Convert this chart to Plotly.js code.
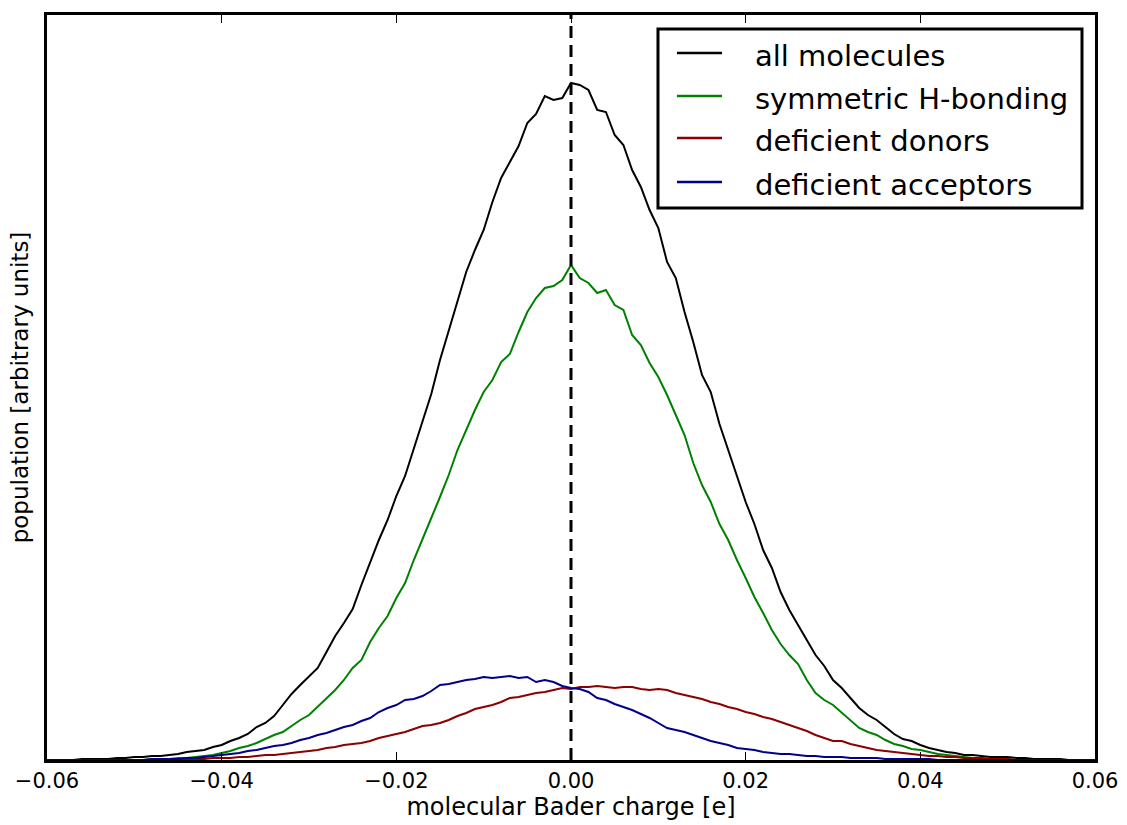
<!DOCTYPE html>
<html>
<head>
<meta charset="utf-8">
<script src="https://cdn.plot.ly/plotly-3.0.1.min.js"></script>
<style>html,body{margin:0;padding:0;background:#fff;}#chart{width:1127px;height:825px;}</style>
</head>
<body>
<div id="chart"></div>
<script>
const charge = [-0.060,-0.059,-0.058,-0.057,-0.056,-0.055,-0.054,-0.053,-0.052,-0.051,
-0.050,-0.049,-0.048,-0.047,-0.046,-0.045,-0.044,-0.043,-0.042,-0.041,
-0.040,-0.039,-0.038,-0.037,-0.036,-0.035,-0.034,-0.033,-0.032,-0.031,
-0.030,-0.029,-0.028,-0.027,-0.026,-0.025,-0.024,-0.023,-0.022,-0.021,
-0.020,-0.019,-0.018,-0.017,-0.016,-0.015,-0.014,-0.013,-0.012,-0.011,
-0.010,-0.009,-0.008,-0.007,-0.006,-0.005,-0.004,-0.003,-0.002,-0.001,
0.000,
0.001,0.002,0.003,0.004,0.005,0.006,0.007,0.008,0.009,0.010,
0.011,0.012,0.013,0.014,0.015,0.016,0.017,0.018,0.019,0.020,
0.021,0.022,0.023,0.024,0.025,0.026,0.027,0.028,0.029,0.030,
0.031,0.032,0.033,0.034,0.035,0.036,0.037,0.038,0.039,0.040,
0.041,0.042,0.043,0.044,0.045,0.046,0.047,0.048,0.049,0.050,
0.051,0.052,0.053,0.054,0.055,0.056,0.057,0.058,0.059,0.060];

const allMolecules = [0,0,0,0,1,1,1,1,2,2,
3,3,4,4,5,6,8,9,10,13,
15,19,22,26,33,37,44,55,66,75,
84,92,108,124,137,151,175,198,220,240,
264,284,312,338,366,400,430,460,488,510,
530,558,582,598,614,637,646,664,660,662,
677,
675,670,650,648,625,615,590,573,550,532,
498,482,448,418,385,368,336,310,284,258,
236,210,192,168,150,135,120,105,94,80,
72,62,52,45,40,33,26,21,19,15,
12,10,8,7,5,5,4,3,3,3,
2,2,1,1,1,1,0,0,0,0];

const symmetricHB = [0,0,0,0,0,0,0,0,0,0,
0,0,1,1,1,2,2,3,4,5,
7,9,12,14,17,21,25,28,34,40,
45,53,62,70,80,92,100,118,132,144,
162,177,200,222,242,263,285,310,330,350,
368,380,398,406,428,448,462,472,474,480,
495,
482,477,467,470,455,450,425,415,397,383,
365,345,325,297,275,258,236,220,200,182,
163,147,130,116,105,96,80,67,60,55,
47,40,32,28,25,20,16,14,11,10,
8,6,5,4,3,2,2,1,1,1,
0,0,0,0,0,0,0,0,0,0];

const deficientDonors = [0,0,0,0,0,0,0,0,0,0,
0,0,0,0,0,0,1,1,1,2,
2,2,3,3,4,5,5,6,7,8,
9,10,12,13,15,16,17,19,22,24,
26,28,31,34,35,37,40,44,47,51,
53,55,58,62,63,65,67,68,70,72,
71,
73,73,74,73,72,73,73,71,70,71,
70,67,65,63,61,58,56,53,51,48,
46,43,41,38,35,32,29,25,22,19,
19,16,14,12,10,9,8,7,6,5,
4,4,3,3,2,2,2,1,1,1,
0,0,0,0,0,0,0,0,0,0];

const deficientAcceptors = [0,0,0,0,0,0,0,0,0,0,
0,0,1,1,1,1,2,2,3,4,
5,6,7,9,10,12,14,15,17,20,
22,25,27,30,33,35,39,42,48,52,
55,60,61,64,69,75,76,78,80,81,
83,82,83,84,82,83,78,80,78,74,
72,
71,68,62,60,56,53,50,46,42,37,
32,30,28,25,22,19,17,15,12,11,
10,8,7,6,6,5,4,4,3,3,
3,2,2,2,2,1,1,1,1,1,
1,0,0,0,0,0,0,0,0,0,
0,0,0,0,0,0,0,0,0,0];

const seriesNames = ["all molecules", "symmetric H-bonding", "deficient donors", "deficient acceptors"];
const seriesColors = ["#000000", "#008000", "#8b0000", "#00008b"];
const seriesValues = [allMolecules, symmetricHB, deficientDonors, deficientAcceptors];

const tickVals = [-0.06, -0.04, -0.02, 0.00, 0.02, 0.04, 0.06];
const tickText = ["\u22120.06", "\u22120.04", "\u22120.02", "0.00", "0.02", "0.04", "0.06"];

const FONT = "DejaVu Sans, Liberation Sans, sans-serif";

const traces = seriesValues.map((vals, i) => ({
  type: "scatter",
  mode: "lines",
  x: charge,
  y: vals,
  name: seriesNames[i],
  line: {color: seriesColors[i], width: 2},
  hoverinfo: "x+y+name",
  showlegend: false
}));

// legend drawn as a framed box (paper coordinates)
const legBox = {x0: 0.583, x1: 0.9876, y0: 0.7409, y1: 0.9812};
const legRowsY = [0.9490, 0.8913, 0.8349, 0.7758];
const legLineX = [0.6011, 0.6441];
const legTextX = 0.6737;
const legTextDy = -0.004;

const shapes = [{
  type: "line", xref: "x", yref: "paper",
  x0: 0, x1: 0, y0: 0, y1: 1,
  line: {color: "#000000", width: 3, dash: "12px,7px"},
  layer: "above"
}, {
  type: "rect", xref: "paper", yref: "paper",
  x0: legBox.x0, x1: legBox.x1, y0: legBox.y0, y1: legBox.y1,
  line: {color: "#000000", width: 3},
  fillcolor: "#ffffff",
  layer: "above"
}];
const annotations = [];
seriesNames.forEach((name, i) => {
  shapes.push({
    type: "line", xref: "paper", yref: "paper",
    x0: legLineX[0], x1: legLineX[1], y0: legRowsY[i], y1: legRowsY[i],
    line: {color: seriesColors[i], width: 2.5},
    layer: "above"
  });
  annotations.push({
    xref: "paper", yref: "paper", x: legTextX, y: legRowsY[i] + legTextDy,
    xanchor: "left", yanchor: "middle", showarrow: false,
    text: name,
    font: {family: FONT, size: 29, color: "#000000"}
  });
});

const layout = {
  width: 1127,
  height: 825,
  margin: {l: 47, r: 32, t: 15, b: 65},
  paper_bgcolor: "#ffffff",
  plot_bgcolor: "#ffffff",
  font: {family: FONT, color: "#000000", size: 20},
  showlegend: false,
  xaxis: {
    range: [-0.06, 0.06],
    tickvals: tickVals,
    ticktext: tickText,
    ticks: "inside",
    ticklen: 8,
    tickwidth: 1,
    tickcolor: "#000000",
    showline: true,
    linewidth: 3,
    linecolor: "#000000",
    mirror: "ticks",
    showgrid: false,
    zeroline: false,
    tickfont: {family: FONT, size: 21, color: "#000000"},
    title: {text: "molecular Bader charge [e]", font: {family: FONT, size: 24, color: "#000000"}, standoff: 2},
    automargin: false
  },
  yaxis: {
    range: [0, 745],
    showticklabels: false,
    ticks: "",
    showline: true,
    linewidth: 3,
    linecolor: "#000000",
    mirror: true,
    showgrid: false,
    zeroline: false,
    title: {text: "population [arbitrary units]", font: {family: FONT, size: 23, color: "#000000"}, standoff: 9},
    automargin: false
  },
  shapes: shapes,
  annotations: annotations
};

Plotly.newPlot("chart", traces, layout, {displayModeBar: false, staticPlot: true});
</script>
</body>
</html>
